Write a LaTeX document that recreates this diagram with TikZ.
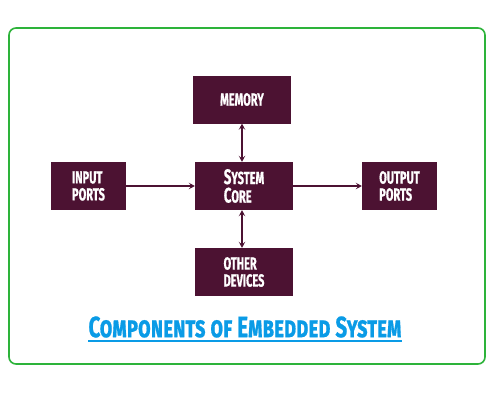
\documentclass[tikz,border=0pt]{standalone}
\usepackage{fontspec}
\usepackage{tikz}
\usetikzlibrary{arrows.meta}
\newfontfamily\boxfont[FakeStretch=0.63, FakeBold=0.8]{Fira Sans}
\newfontfamily\titlefont[FakeStretch=0.7, FakeBold=0.6]{Fira Sans}
\newcommand\leadcap[1]{{\fontsize{21}{17}\selectfont #1}}
\definecolor{plum}{HTML}{4C1232}
\definecolor{framegreen}{HTML}{2DB33A}
\definecolor{titleblue}{HTML}{0A9BE6}

\begin{document}
\begin{tikzpicture}[x=1pt, y=-1pt,
    unit/.style={fill=plum, text=white, minimum width=98pt, minimum height=48pt,
      inner sep=0pt, align=left, font=\boxfont\bfseries\fontsize{17.5}{17}\selectfont},
    port/.style={unit, minimum width=75pt},
    link/.style={plum, line width=1.1pt, -{Stealth[length=6pt, width=6.5pt, inset=2.5pt]}},
    duplex/.style={link, {Stealth[length=6pt, width=6.5pt, inset=2.5pt]}-{Stealth[length=6pt, width=6.5pt, inset=2.5pt]}}]
  \useasboundingbox (0, 0) rectangle (495, 400);
  \draw[framegreen, line width=1.6pt, rounded corners=7pt] (9, 28) rectangle (485, 364);
  \node[unit] (memory) at (242, 99.5) {MEMORY};
  \node[port] (input) at (88.5, 186) {INPUT\\PORTS};
  \node[unit] (core) at (244, 186) {\leadcap{S}YSTEM\\[1.5pt]\leadcap{C}ORE};
  \node[port] (output) at (399.5, 186) {OUTPUT\\PORTS};
  \node[unit] (other) at (244, 272) {OTHER\\DEVICES};
  \draw[duplex] (memory.south) -- (memory.south |- core.north);
  \draw[duplex] (memory.south |- core.south) -- (memory.south |- other.north);
  \draw[link] (input) -- (core);
  \draw[link] (core) -- (output);
  \node[text=titleblue, inner xsep=0pt, inner ysep=3pt,
    font=\titlefont\bfseries\fontsize{29.5}{30}\selectfont\scshape] (title) at (245, 327)
    {Components of Embedded System};
  \draw[titleblue, line width=1.5pt] (title.south west) -- (title.south east);
\end{tikzpicture}
\end{document}
